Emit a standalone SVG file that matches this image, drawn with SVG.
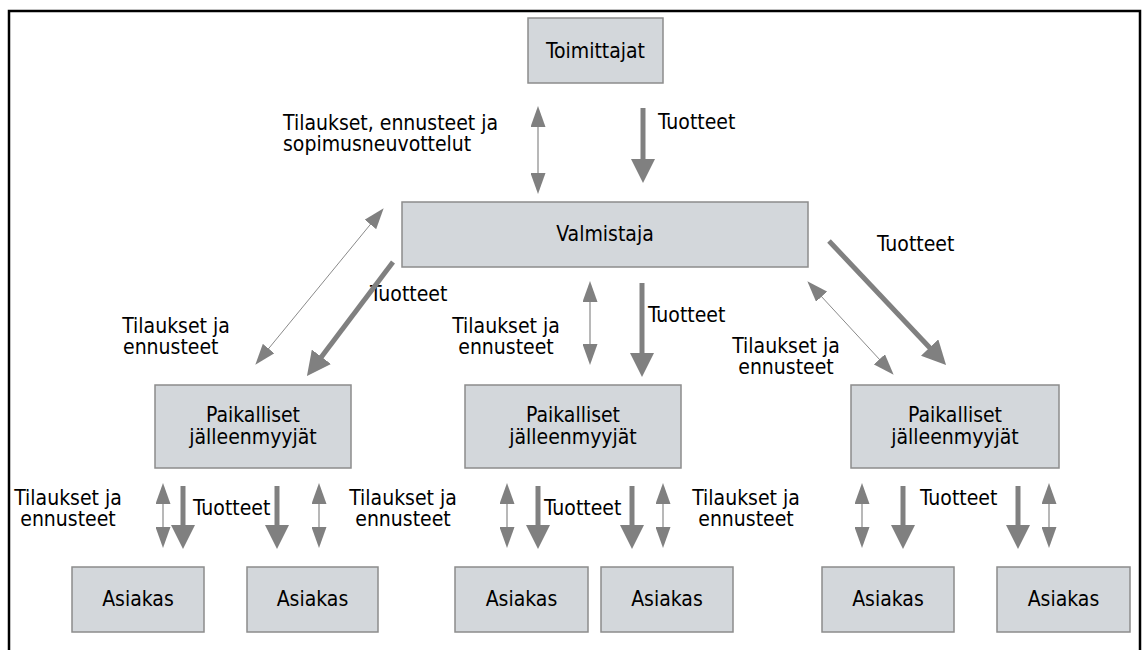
<svg xmlns="http://www.w3.org/2000/svg" width="1142" height="650" viewBox="0 0 1142 650">
  <style>
    .box { fill: #d3d7db; stroke: #8c8c8c; stroke-width: 1.5; }
    .t { font-family: "DejaVu Sans Condensed", "DejaVu Sans", sans-serif; font-stretch: condensed; font-size: 21px; fill: #000; }
    .c { text-anchor: middle; }
    .flow { stroke: #808080; stroke-width: 5; fill: none; marker-end: url(#headBig); }
    .info { stroke: #a0a0a0; stroke-width: 1.5; fill: none; marker-start: url(#headSmall); marker-end: url(#headSmall); }
    .infoDiag { stroke: #8a8a8a; stroke-width: 1; fill: none; marker-start: url(#headSmall); marker-end: url(#headSmall); }
  </style>
  <defs>
    <!-- thick product-flow head: tip sits 12px past the line end -->
    <marker id="headBig" markerUnits="userSpaceOnUse" markerWidth="24" markerHeight="24" refX="12" refY="12" orient="auto" viewBox="0 0 24 24">
      <path d="M0,0 L24,12 L0,24 z" fill="#808080"/>
    </marker>
    <!-- small head for the two-way order/forecast links -->
    <marker id="headSmall" markerUnits="userSpaceOnUse" markerWidth="21" markerHeight="15" refX="10" refY="7.5" orient="auto-start-reverse" viewBox="0 0 21 15">
      <path d="M0,0 L21,7.5 L0,15 z" fill="#808080"/>
    </marker>
  </defs>

  <rect width="1142" height="650" fill="#fff"/>
  <!-- outer frame, open at the bottom -->
  <path d="M9,650 V11 H1140 V650" fill="none" stroke="#000" stroke-width="2.5"/>

  <!-- nodes -->
  <g id="toimittajat">
    <rect class="box" x="528" y="18" width="135" height="65"/>
    <text class="t c" x="595.5" y="58">Toimittajat</text>
  </g>
  <g id="valmistaja">
    <rect class="box" x="402" y="202" width="406" height="65"/>
    <text class="t c" x="605" y="241">Valmistaja</text>
  </g>
  <g id="jalleenmyyjat-1">
    <rect class="box" x="155" y="385" width="196" height="83"/>
    <text class="t c" x="253" y="422">Paikalliset</text>
    <text class="t c" x="253" y="444">jälleenmyyjät</text>
  </g>
  <g id="jalleenmyyjat-2">
    <rect class="box" x="465" y="385" width="216" height="83"/>
    <text class="t c" x="573" y="422">Paikalliset</text>
    <text class="t c" x="573" y="444">jälleenmyyjät</text>
  </g>
  <g id="jalleenmyyjat-3">
    <rect class="box" x="851" y="385" width="208" height="83"/>
    <text class="t c" x="955" y="422">Paikalliset</text>
    <text class="t c" x="955" y="444">jälleenmyyjät</text>
  </g>
  <g id="asiakas-1">
    <rect class="box" x="72" y="567" width="132" height="65"/>
    <text class="t c" x="138" y="606">Asiakas</text>
  </g>
  <g id="asiakas-2">
    <rect class="box" x="247" y="567" width="131" height="65"/>
    <text class="t c" x="312.5" y="606">Asiakas</text>
  </g>
  <g id="asiakas-3">
    <rect class="box" x="455" y="567" width="133" height="65"/>
    <text class="t c" x="521.5" y="606">Asiakas</text>
  </g>
  <g id="asiakas-4">
    <rect class="box" x="601" y="567" width="132" height="65"/>
    <text class="t c" x="667" y="606">Asiakas</text>
  </g>
  <g id="asiakas-5">
    <rect class="box" x="822" y="567" width="132" height="65"/>
    <text class="t c" x="888" y="606">Asiakas</text>
  </g>
  <g id="asiakas-6">
    <rect class="box" x="997" y="567" width="133" height="65"/>
    <text class="t c" x="1063.5" y="606">Asiakas</text>
  </g>

  <!-- link labels -->
  <g id="labels">
    <text class="t" x="283" y="130">Tilaukset, ennusteet ja</text>
    <text class="t" x="283" y="151">sopimusneuvottelut</text>
    <text class="t" x="658" y="129">Tuotteet</text>

    <text class="t" x="370" y="301">Tuotteet</text>
    <text class="t c" x="176" y="333">Tilaukset ja</text>
    <text class="t" x="123" y="354">ennusteet</text>

    <text class="t" x="648" y="322">Tuotteet</text>
    <text class="t c" x="506" y="333">Tilaukset ja</text>
    <text class="t c" x="506" y="354">ennusteet</text>

    <text class="t" x="877" y="251">Tuotteet</text>
    <text class="t c" x="786" y="353">Tilaukset ja</text>
    <text class="t c" x="786" y="374">ennusteet</text>

    <text class="t c" x="68" y="505">Tilaukset ja</text>
    <text class="t c" x="68" y="526">ennusteet</text>
    <text class="t" x="193" y="515">Tuotteet</text>
    <text class="t c" x="403" y="505">Tilaukset ja</text>
    <text class="t c" x="403" y="526">ennusteet</text>

    <text class="t" x="544" y="515">Tuotteet</text>
    <text class="t c" x="746" y="505">Tilaukset ja</text>
    <text class="t c" x="746" y="526">ennusteet</text>

    <text class="t" x="920" y="505">Tuotteet</text>
  </g>

  <!-- connectors -->
  <g id="connectors">
    <!-- Toimittajat <-> Valmistaja -->
    <line class="info" x1="538" y1="117" x2="538" y2="183"/>
    <line class="flow" x1="643" y1="108" x2="643" y2="171"/>

    <!-- Valmistaja <-> jälleenmyyjät -->
    <line class="infoDiag" x1="376.7" y1="216.7" x2="262.3" y2="356.3"/>
    <line class="flow" x1="393" y1="262" x2="314.2" y2="366.4"/>
    <line class="info" x1="590" y1="292" x2="590" y2="354"/>
    <line class="flow" x1="642" y1="283" x2="642" y2="365"/>
    <line class="infoDiag" x1="814.8" y1="289.3" x2="886.2" y2="366.7"/>
    <line class="flow" x1="829" y1="241" x2="937.8" y2="356.3"/>

    <!-- jälleenmyyjät <-> asiakkaat -->
    <line class="info" x1="163" y1="494" x2="163" y2="537"/>
    <line class="flow" x1="183" y1="486" x2="183" y2="537"/>
    <line class="flow" x1="277" y1="486" x2="277" y2="537"/>
    <line class="info" x1="319" y1="494" x2="319" y2="537"/>

    <line class="info" x1="507" y1="494" x2="507" y2="537"/>
    <line class="flow" x1="538" y1="486" x2="538" y2="537"/>
    <line class="flow" x1="632" y1="486" x2="632" y2="537"/>
    <line class="info" x1="663" y1="494" x2="663" y2="537"/>

    <line class="info" x1="862" y1="494" x2="862" y2="537"/>
    <line class="flow" x1="903" y1="486" x2="903" y2="537"/>
    <line class="flow" x1="1018" y1="486" x2="1018" y2="537"/>
    <line class="info" x1="1049" y1="494" x2="1049" y2="537"/>
  </g>
</svg>
